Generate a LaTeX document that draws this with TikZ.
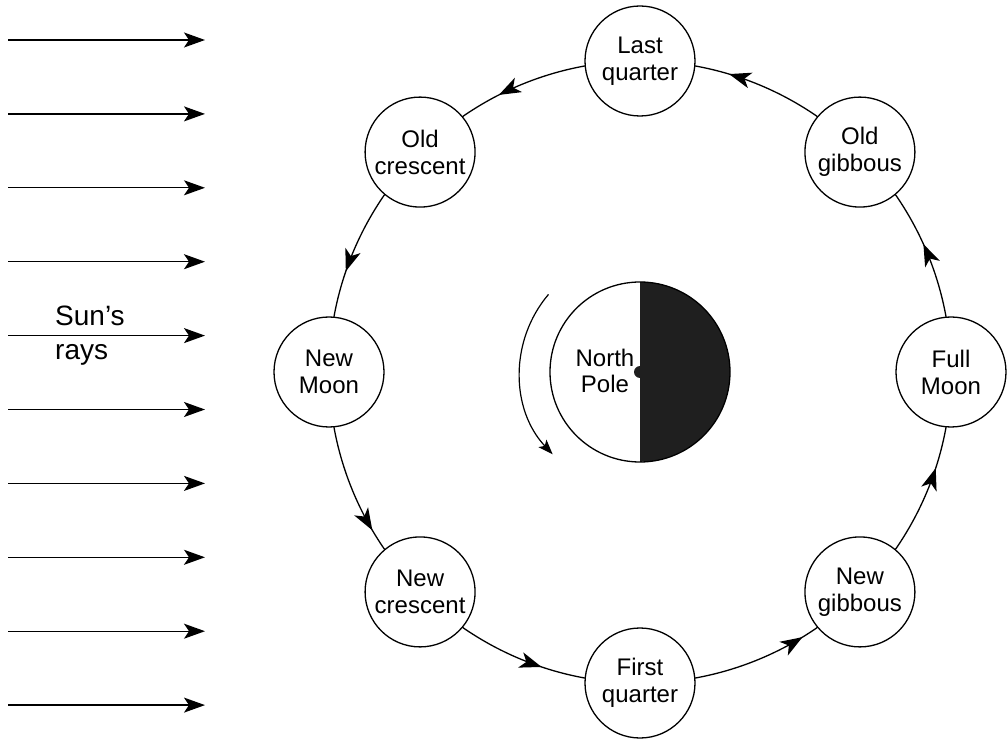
\documentclass[tikz,border=0pt]{standalone}
\usepackage{fontspec}
\setmainfont{Liberation Sans}
\usetikzlibrary{arrows.meta,decorations.markings,backgrounds}
\begin{document}
\begin{tikzpicture}[x=1pt,y=1pt,
  moon/.style={circle,draw,fill=white,line width=1.3pt,minimum size=110pt,inner sep=0pt,align=center,font=\fontsize{24}{27}\selectfont},
  orbit/.style={line width=1.3pt,looseness=0.885},
  ray/.style={line width=1.4pt,-{Stealth[length=21pt,width=15pt,inset=5pt]}},
  orbitarrow/.style={postaction={decorate},decoration={markings,mark=at position #1 with {\arrow{Stealth[length=22pt,width=16pt,inset=6pt]}}}},
  rot/.style={line width=1.2pt,-{Stealth[length=15pt,width=11pt,inset=3.5pt]}}
]
\useasboundingbox (0,0) rectangle (1007,740);

% Sun's rays
\foreach \i in {0,...,9} {
  \coordinate (rs\i) at (8,{700-73.9*\i});
  \coordinate (re\i) at (205,{700-73.9*\i});
  \draw[ray] (rs\i) -- (re\i);
}
\node[anchor=base west,inner sep=0pt,font=\fontsize{28}{32}\selectfont] (sun) at (55,414) {Sun’s};
\node[anchor=base west,inner sep=0pt,font=\fontsize{28}{32}\selectfont] (rays) at (55,380) {rays};

% Earth
\node[circle,minimum size=180pt,inner sep=0pt] (earth) at (640,368) {};
\fill[black!88] (earth.north) arc[start angle=90,end angle=-90,radius=90pt] -- cycle;
\draw[line width=1.3pt] (earth.center) circle (90pt);
\fill[black!88] (earth.center) circle (6pt);
\node[font=\fontsize{24}{26}\selectfont,align=center,inner sep=0pt] (np) at (605,369.5) {North\\Pole};

% rotation arrow
\coordinate (rots) at ([shift={(139.7:120)}]earth.center);
\draw[rot] (rots) arc[start angle=139.7,end angle=223.3,radius=120pt];

% Moons
\begin{scope}[shift={(640,368)}]
  \node[moon] (fm) at (0:311) {Full\\Moon};
  \node[moon] (og) at (45:311) {Old\\gibbous};
  \node[moon] (lq) at (90:311) {Last\\quarter};
  \node[moon] (oc) at (135:311) {Old\\crescent};
  \node[moon] (nm) at (180:311) {New\\Moon};
  \node[moon] (nc) at (225:311) {New\\crescent};
  \node[moon] (fq) at (270:311) {First\\quarter};
  \node[moon] (ng) at (315:311) {New\\gibbous};
\end{scope}

% Orbit
\begin{scope}[on background layer]
  \draw[orbit,orbitarrow=0.54] (fm.center) to[out=90,in=315] (og.center);
  \draw[orbit,orbitarrow=0.63] (og.center) to[out=135,in=0] (lq.center);
  \draw[orbit,orbitarrow=0.60] (lq.center) to[out=180,in=45] (oc.center);
  \draw[orbit,orbitarrow=0.58] (oc.center) to[out=225,in=90] (nm.center);
  \draw[orbit,orbitarrow=0.68] (nm.center) to[out=270,in=135] (nc.center);
  \draw[orbit,orbitarrow=0.59] (nc.center) to[out=315,in=180] (fq.center);
  \draw[orbit,orbitarrow=0.70] (fq.center) to[out=0,in=225] (ng.center);
  \draw[orbit,orbitarrow=0.60] (ng.center) to[out=45,in=270] (fm.center);
\end{scope}
\end{tikzpicture}
\end{document}
